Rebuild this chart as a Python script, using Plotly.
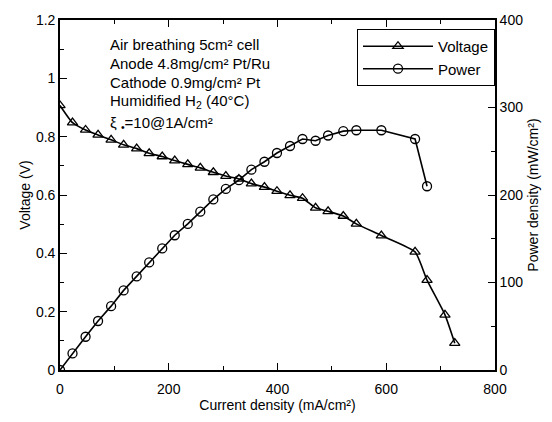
import plotly.graph_objects as go

# Data
current_v = [0, 23, 47, 70, 94, 117, 141, 164, 188, 211, 235, 258, 282, 305, 329,
             352, 376, 399, 423, 446, 470, 493, 521, 545, 591, 653, 675, 708, 726]
voltage = [0.907, 0.848, 0.823, 0.806, 0.789, 0.772, 0.759, 0.743, 0.732, 0.718,
           0.705, 0.693, 0.678, 0.665, 0.655, 0.639, 0.627, 0.613, 0.599, 0.589,
           0.556, 0.544, 0.528, 0.501, 0.461, 0.405, 0.308, 0.189, 0.092]

current_p = [0, 23, 47, 70, 94, 117, 141, 164, 188, 211, 235, 258, 282, 305, 329,
             352, 376, 399, 423, 446, 470, 493, 521, 545, 591, 653, 675]
power = [0, 19, 38, 56, 73, 91, 107, 123, 139, 154, 167, 181, 195, 207, 217,
         229, 238, 248, 256, 264, 262, 268, 273, 274, 274, 264, 210]

info_lines = [
    "Air breathing 5cm² cell",
    "Anode 4.8mg/cm² Pt/Ru",
    "Cathode 0.9mg/cm² Pt",
    "Humidified H<sub>2</sub> (40°C)",
    "ξ <sub>•</sub>=10@1A/cm²",
]

FONT = "Liberation Sans, Arial, sans-serif"

fig = go.Figure()
fig.add_trace(go.Scatter(
    x=current_v, y=voltage, name="Voltage", mode="lines+markers",
    line=dict(color="black", width=1.6, shape="spline", smoothing=0.5),
    marker=dict(symbol="triangle-up-open", size=9, color="black", line=dict(width=1.3)),
))
fig.add_trace(go.Scatter(
    x=current_p, y=power, name="Power", mode="lines+markers", yaxis="y2",
    line=dict(color="black", width=1.6),
    marker=dict(symbol="circle-open", size=9, color="black", line=dict(width=1.3)),
))

# plot area in pixels
L, R, T, B = 60, 495, 20, 372
W, H = 552, 422

def px(x):
    return (x - L) / (R - L)

def py(y):
    return (B - y) / (B - T)

ys = [45, 64, 83, 102, 124]
for txt, yy in zip(info_lines, ys):
    fig.add_annotation(text=txt, x=px(108), y=py(yy), xref="paper", yref="paper",
                       xanchor="left", yanchor="middle", showarrow=False,
                       font=dict(family=FONT, size=15, color="black"))

axis_common = dict(
    showline=True, linecolor="black", linewidth=1.6,
    ticks="inside", ticklen=7, tickwidth=1.3, tickcolor="black",
    showgrid=False, zeroline=False,
    tickfont=dict(family=FONT, size=14, color="black"),
)

fig.update_layout(
    width=W, height=H,
    margin=dict(l=L, r=W - R, t=T, b=H - B),
    paper_bgcolor="white", plot_bgcolor="white",
    font=dict(family=FONT, size=14, color="black"),
    xaxis=dict(range=[0, 800], dtick=200, mirror="ticks", ticklabelstandoff=5,
               minor=dict(dtick=100, ticks="inside", ticklen=4, tickcolor="black"),
               title=dict(text="Current density (mA/cm²)", font=dict(family=FONT, size=14), standoff=4),
               **axis_common),
    yaxis=dict(range=[0, 1.2], dtick=0.2, tickformat="~g",
               minor=dict(dtick=0.1, ticks="inside", ticklen=4, tickcolor="black"),
               title=dict(text="Voltage (V)", font=dict(family=FONT, size=14), standoff=2),
               **axis_common),
    yaxis2=dict(range=[0, 400], dtick=100, overlaying="y", side="right",
                minor=dict(dtick=50, ticks="inside", ticklen=4, tickcolor="black"),
                title=dict(text="Power density (mW/cm²)", font=dict(family=FONT, size=14), standoff=6),
                **axis_common),
    legend=dict(x=1, xanchor="right", y=py(29), yanchor="top",
                bordercolor="black", borderwidth=1, bgcolor="white",
                itemwidth=70, font=dict(family=FONT, size=15, color="black"),
                tracegroupgap=2),
    showlegend=True,
)

fig.write_html("out.html")
